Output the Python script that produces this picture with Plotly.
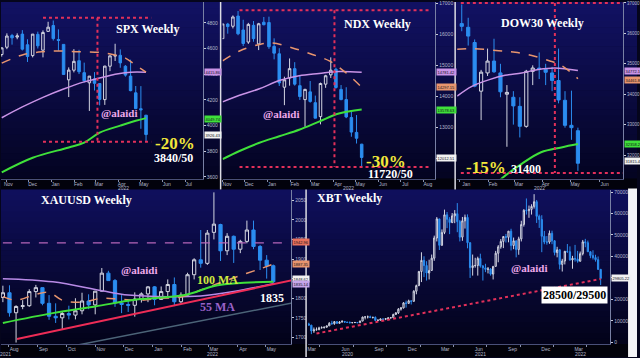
import plotly.graph_objects as go
import pandas as pd

W, H = 640, 358
SERIF = "Liberation Serif"
SANS = "Liberation Sans"

UP = "#d4d6e2"
DN = "#2b8df0"
C_ORANGE = "#e8956e"
C_VIOLET = "#c993e6"
C_GREEN = "#3fe03a"
C_RED = "#e3305a"
C_YEL = "#f2e83a"
C_PINK = "#eea8ea"

# ======================= DATA =======================
# ---- SPX weekly ----
spx_first_week = "2021-10-25"
spx_open = [4553, 4610, 4701, 4689, 4712, 4629, 4545, 4710, 4587, 4733, 4779, 4670, 4632, 4356, 4431,
            4505, 4412, 4333, 4363, 4327, 4202, 4462, 4541, 4547, 4462, 4385, 4255, 4131, 4081]
spx_high = [4608, 4718, 4714, 4718, 4743, 4672, 4713, 4731, 4741, 4808, 4818, 4749, 4632, 4453, 4595,
            4590, 4490, 4385, 4416, 4327, 4465, 4546, 4637, 4593, 4471, 4513, 4308, 4307, 4081]
spx_low = [4537, 4595, 4630, 4672, 4585, 4495, 4531, 4600, 4531, 4733, 4662, 4582, 4395, 4222, 4414,
           4401, 4335, 4114, 4273, 4157, 4161, 4424, 4503, 4450, 4381, 4267, 4128, 3975, 3880]
spx_close = [4605, 4697, 4683, 4698, 4595, 4538, 4712, 4621, 4725, 4766, 4677, 4663, 4398, 4432, 4500,
             4419, 4349, 4385, 4329, 4204, 4463, 4543, 4546, 4488, 4393, 4272, 4132, 4123, 3930]
spx_orange_dates = ["2021-10-25", "2021-11-22", "2021-12-20", "2022-01-10", "2022-02-07", "2022-03-07",
                    "2022-03-28", "2022-04-11", "2022-04-25", "2022-05-09"]
spx_orange = [4486, 4550, 4575, 4581, 4575, 4570, 4550, 4525, 4470, 4416]
spx_violet_dates = ["2021-10-25", "2021-11-22", "2021-12-20", "2022-01-17", "2022-02-14", "2022-03-07",
                    "2022-03-28", "2022-04-18", "2022-05-09"]
spx_violet = [4061, 4145, 4220, 4285, 4340, 4370, 4400, 4416, 4416]
spx_green_dates = ["2021-10-25", "2021-12-06", "2022-01-24", "2022-02-14", "2022-03-07", "2022-04-04",
                   "2022-04-25", "2022-05-09"]
spx_green = [3636, 3750, 3830, 3868, 3945, 4000, 4038, 4058]
spx_box_dates = ["2021-12-20", "2022-05-16"]
spx_box_levels = [4840, 3875]
spx_box_split = "2022-03-04"
spx_yticks = [3600, 3800, 4000, 4200, 4400, 4600, 4800]
spx_month_dates = ["2021-11-03", "2021-12-06", "2022-01-06", "2022-02-06", "2022-03-06", "2022-04-06",
                   "2022-05-06", "2022-06-06", "2022-07-06"]
spx_month_labels = ["Nov", "Dec", "Jan", "Feb", "Mar", "Apr", "May", "Jun", "Jul"]
spx_year_dates = ["2022-04-08"]
spx_year_labels = ["2022"]
spx_tags = [4415.86, 4049.74, 3926.43]

# ---- NDX weekly ----
ndx_first_week = "2021-11-01"
ndx_open = [15870, 16340, 16270, 16600, 16150, 15760, 16300, 15700, 16400, 16390, 15620, 15380, 14300, 14600,
            14900, 14350, 13900, 14150, 13800, 13350, 14400, 14700, 14880, 14230, 13900, 13320, 12840, 12460]
ndx_high = [16350, 16380, 16620, 16764, 16480, 16380, 16440, 16380, 16570, 16580, 15880, 15560, 14640, 15230,
            15110, 14690, 14250, 14500, 14030, 14450, 14700, 15265, 14930, 14370, 14300, 13560, 13400, 12470]
ndx_low = [15860, 16030, 16200, 15980, 15630, 15700, 15770, 15500, 16300, 15540, 15200, 14340, 13720, 14350,
           14350, 13890, 13020, 13800, 13300, 13100, 14280, 14600, 14250, 13880, 13300, 12700, 12480, 11700]
ndx_close = [16345, 16260, 16570, 16026, 15712, 16330, 15870, 16350, 16320, 15610, 15400, 14440, 14540, 14900,
             14400, 14000, 14230, 13840, 13300, 14420, 14670, 14850, 14290, 13900, 13340, 12850, 12650, 12030]
ndx_orange_dates = ["2021-11-01", "2021-11-24", "2021-12-21", "2022-01-07", "2022-02-04", "2022-03-03",
                    "2022-03-26", "2022-04-17", "2022-05-09"]
ndx_orange = [15150, 15470, 15680, 15730, 15570, 15360, 15150, 14780, 14300]
ndx_violet_dates = ["2021-11-01", "2021-11-24", "2021-12-21", "2022-01-17", "2022-02-13", "2022-03-12",
                    "2022-04-08", "2022-05-09"]
ndx_violet = [13825, 14040, 14250, 14515, 14670, 14745, 14810, 14780]
ndx_green_dates = ndx_violet_dates
ndx_green = [11975, 12240, 12505, 12715, 12925, 13190, 13450, 13580]
ndx_box_dates = ["2021-11-24", "2022-08-11"]
ndx_box_levels = [16790, 11720]
ndx_box_split = "2022-04-02"
ndx_yticks = [12000, 13000, 14000, 15000, 16000, 17000]
ndx_month_dates = ["2021-11-07", "2021-12-07", "2022-01-07", "2022-02-07", "2022-03-07", "2022-04-07",
                   "2022-05-07", "2022-06-07", "2022-07-07", "2022-08-07"]
ndx_month_labels = ["Nov", "Dec", "Jan", "Feb", "Mar", "Apr", "May", "Jun", "Jul", "Aug"]
ndx_year_dates = ["2022-04-21"]
ndx_year_labels = ["2022"]
ndx_tags = [14781.42, 14297.15, 13578.63, 12012.51]

# ---- DOW30 weekly ----
dow_first_week = "2022-01-03"
dow_open = [36321, 36200, 35700, 34100, 34700, 35090, 34700, 34000, 33900, 33600, 32944, 34750, 34860, 34818,
            34700, 34450, 33800, 32977, 32800]
dow_high = [36952, 36513, 35800, 34800, 35500, 35824, 35000, 34300, 34100, 33900, 34800, 34950, 35372, 35000,
            34900, 35500, 34100, 34117, 32900]
dow_low = [36071, 35600, 34230, 33150, 34600, 34700, 33900, 32272, 33000, 32578, 32900, 34300, 34500, 34300,
           34100, 33700, 32900, 32500, 31480]
dow_close = [36231, 35911, 34265, 34725, 35089, 34738, 34079, 34059, 33615, 32944, 34754, 34861, 34818, 34721,
             34451, 33811, 32977, 32899, 31730]
dow_orange_dates = ["2021-12-29", "2022-01-14", "2022-02-12", "2022-03-02", "2022-03-20", "2022-04-07",
                    "2022-04-21", "2022-05-09"]
dow_orange = [35480, 35500, 35430, 35380, 35270, 35110, 34950, 34510]
dow_violet_dates = ["2021-12-29", "2022-01-14", "2022-02-02", "2022-02-19", "2022-03-09", "2022-03-27",
                    "2022-04-14", "2022-05-09"]
dow_violet = [33940, 34260, 34480, 34620, 34700, 34810, 34860, 34780]
dow_green_dates = ["2022-02-01", "2022-02-15", "2022-03-09", "2022-03-30", "2022-04-21", "2022-05-09"]
dow_green = [30800, 31220, 31710, 32090, 32250, 32360]
dow_box_dates = ["2022-01-02", "2022-06-30"]
dow_box_levels = [37000, 31410]
dow_box_split = "2022-04-14"
dow_yticks = [32000, 33000, 34000, 35000, 36000, 37000]
dow_month_dates = ["2022-01-08", "2022-02-06", "2022-03-06", "2022-04-04", "2022-05-06", "2022-06-07"]
dow_month_labels = ["Jan", "Feb", "Mar", "Apr", "May", "Jun"]
dow_year_dates = ["2022-03-28"]
dow_year_labels = ["2022"]
dow_tags = [34772.10, 34461.88, 32358.27, 31815.40]

# ---- XAUUSD weekly ----
xau_first_week = "2021-07-26"
xau_open = [1802, 1814, 1763, 1779, 1781, 1817, 1827, 1787, 1754, 1750, 1761, 1757, 1768, 1793, 1783, 1818,
            1864, 1845, 1788, 1784, 1782, 1798, 1811, 1829, 1797, 1817, 1835, 1791, 1808, 1860, 1898, 1889,
            1968, 1988, 1921, 1958, 1925, 1945, 1974, 1932, 1897, 1883]
xau_high = [1832, 1833, 1782, 1795, 1823, 1834, 1827, 1808, 1787, 1765, 1781, 1800, 1814, 1810, 1818, 1877,
            1870, 1849, 1808, 1793, 1815, 1815, 1831, 1831, 1830, 1848, 1853, 1815, 1865, 1902, 1974, 1974,
            2070, 1990, 1966, 1960, 1949, 1998, 1998, 1936, 1910, 1886]
xau_low = [1790, 1753, 1687, 1772, 1778, 1802, 1782, 1745, 1737, 1721, 1746, 1746, 1759, 1772, 1759, 1817,
           1845, 1778, 1762, 1765, 1753, 1789, 1790, 1782, 1796, 1805, 1780, 1788, 1807, 1848, 1878, 1885,
           1950, 1895, 1910, 1890, 1915, 1940, 1925, 1872, 1850, 1836]
xau_close = [1814, 1763, 1779, 1781, 1817, 1827, 1787, 1754, 1750, 1761, 1757, 1768, 1793, 1783, 1818, 1864,
             1845, 1788, 1784, 1782, 1798, 1811, 1829, 1797, 1817, 1835, 1791, 1808, 1860, 1898, 1889, 1966,
             1989, 1921, 1958, 1925, 1945, 1974, 1932, 1897, 1883, 1842]
xau_orange_dates = ["2021-07-26", "2021-08-09", "2021-08-30", "2021-09-13", "2021-09-27", "2021-10-18",
                    "2021-11-08", "2021-11-29", "2021-12-20", "2022-01-10", "2022-01-31", "2022-02-21",
                    "2022-03-14", "2022-04-04", "2022-04-25", "2022-05-09"]
xau_orange = [1804, 1795, 1810, 1815, 1795, 1790, 1800, 1797, 1795, 1800, 1803, 1821, 1840, 1858, 1875, 1887]
xau_violet_dates = ["2021-07-26", "2021-09-17", "2021-11-08", "2021-12-06", "2022-01-17", "2022-02-21",
                    "2022-03-28", "2022-05-09"]
xau_violet = [1850, 1842, 1819, 1808, 1804, 1806, 1817, 1837]
xau_green_dates = ["2021-07-26", "2021-09-17", "2021-11-01", "2021-12-13", "2022-02-04", "2022-03-11",
                   "2022-05-09"]
xau_green = [1737, 1762, 1779, 1796, 1808, 1833, 1842]
xau_trend_dates = ["2021-08-10", "2022-05-29"]
xau_trend = [1696, 1846]
xau_slate_dates = ["2021-10-14", "2022-05-29"]
xau_slate = [1681, 1788]
xau_hline = 1941
xau_yticks = [1700, 1750, 1800, 1850, 1900, 1950, 2000, 2050]
xau_month_dates = ["2021-08-07", "2021-09-07", "2021-10-07", "2021-11-07", "2021-12-07", "2022-01-07",
                   "2022-02-07", "2022-03-07", "2022-04-07", "2022-05-07"]
xau_month_labels = ["Aug", "Sep", "Oct", "Nov", "Dec", "Jan", "Feb", "Mar", "Apr", "May"]
xau_year_dates = ["2021-07-29", "2022-03-05"]
xau_year_labels = ["2021", "2022"]
xau_tags = [1942.96, 1887.35, 1848.62, 1835.14]

# ---- XBT weekly ----
xbt_first_week = "2020-03-02"
xbt_open = [8600, 8030, 5360, 5830, 5880, 6770, 6860, 7120, 7700, 8890, 8720, 9680, 8900, 9460, 9750, 9450,
            9290, 9140, 9230, 9300, 9160, 9930, 11800, 11900, 11900, 11650, 11680, 10250, 10330, 10930, 10770,
            11070, 11370, 11500, 13030, 13760, 15480, 16050, 18400, 18170, 19370, 19130, 23830, 26440,
            33000, 38200, 35800, 32300, 33500, 39200, 48600, 57500, 45200, 51200, 59400, 57300, 55800, 58900,
            59900, 56200, 49000, 56600, 58200, 46400, 34800, 35700, 35800, 39100, 35600, 34700, 34000, 34200,
            31800, 35400, 41500, 44500, 47000, 49300, 48900, 51800, 45100, 47300, 43200, 48200, 54900, 61500,
            61300, 61900, 63300, 65500, 58700, 57200, 49400, 46700, 46700, 50800,
            47300, 41800, 43100, 36300, 37900, 42400, 42200, 38400, 39100, 38800, 37800, 41300, 46800, 46400,
            42200, 40400, 39500, 38500, 34000]
xbt_high = [9180, 8180, 6950, 6960, 7300, 7470, 7300, 7740, 9460, 10070, 9950, 9850, 9950, 10400, 10000, 9600,
            9770, 9300, 9480, 9330, 10140, 12000, 12000, 12500, 12470, 11800, 12090, 10700, 11100, 10990, 11100,
            11700, 11700, 13350, 14090, 15960, 16480, 18800, 19480, 19900, 19400, 24300, 26900, 33300,
            41950, 40100, 37800, 38500, 40900, 49700, 58350, 57500, 52600, 61800, 60700, 58300, 60200, 61600,
            64850, 57000, 58400, 59500, 59600, 46600, 40900, 39400, 39900, 41300, 36000, 36600, 35100, 34600,
            35400, 42600, 45300, 48100, 49300, 50500, 51800, 52900, 48800, 47300, 49200, 56600, 62000, 67000,
            63700, 64300, 69000, 66300, 59500, 59200, 51900, 49500, 52100, 52000,
            47600, 44500, 43500, 38900, 42600, 45800, 44700, 40300, 45400, 42600, 42300, 47700, 48200, 47400,
            42400, 42900, 40800, 40000, 34200]
xbt_low = [8000, 3850, 4440, 5680, 5860, 6560, 6470, 6810, 7650, 8220, 8200, 8630, 8700, 9300, 9200, 9200,
           8970, 8950, 9100, 9050, 9150, 9900, 10700, 11150, 11300, 11100, 9900, 9900, 10200, 10150, 10370,
           10520, 11200, 11400, 12800, 13250, 14810, 15800, 16200, 18000, 17650, 19000, 22400, 26200,
           28100, 30400, 28800, 29300, 33400, 38000, 47000, 43000, 45000, 50400, 53200, 50400, 55500, 55500,
           51300, 47000, 47300, 53000, 43800, 30000, 31100, 34800, 31100, 34800, 28800, 32700, 32100, 31100,
           29300, 35300, 37300, 43600, 43900, 46500, 46600, 42800, 43400, 39600, 40800, 47000, 53900, 59500,
           58000, 59500, 62300, 55600, 53300, 42000, 45700, 45500, 45900, 45700,
           40500, 39600, 34000, 33000, 36300, 41700, 38000, 34300, 37600, 37100, 37600, 40500, 44300, 42100,
           39200, 38600, 37600, 33700, 26700]
xbt_close = [8030, 5360, 5830, 5880, 6770, 6860, 7120, 7700, 8890, 8720, 9680, 8900, 9460, 9750, 9450, 9290,
             9140, 9230, 9300, 9160, 9930, 11800, 11900, 11900, 11650, 11680, 10250, 10330, 10930, 10770, 11070,
             11370, 11500, 13030, 13760, 15480, 16050, 18400, 18170, 19370, 19130, 23830, 26440, 33000,
             38200, 35800, 32300, 33500, 39200, 48600, 57500, 45200, 51200, 59400, 57300, 55800, 58900, 59900,
             56200, 49000, 56600, 58200, 46400, 34800, 35700, 35800, 39100, 35600, 34700, 34000, 34200, 31800,
             35400, 41500, 44500, 47000, 49300, 48900, 51800, 45100, 47300, 43200, 48200, 54900, 61500, 61300,
             61900, 63300, 65500, 58700, 57200, 49400, 46700, 46700, 50800, 47300,
             41800, 43100, 36300, 37900, 42400, 42200, 38400, 39100, 38800, 37800, 41300, 46800, 46400, 42200,
             40400, 39500, 38500, 34000, 29800]
xbt_trend_dates = ["2020-03-23", "2022-05-09"]
xbt_trend = [4150, 29530]
xbt_yticks = [0, 10000, 20000, 30000, 40000, 50000, 60000, 70000]
xbt_month_dates = ["2020-03-10", "2020-06-10", "2020-09-10", "2020-12-10", "2021-03-10", "2021-06-10",
                   "2021-09-10", "2021-12-10", "2022-03-10"]
xbt_month_labels = ["Mar", "Jun", "Sep", "Dec", "Mar", "Jun", "Sep", "Dec", "Mar"]
xbt_year_dates = ["2020-06-16", "2021-06-15", "2022-03-14"]
xbt_year_labels = ["2020", "2021", "2022"]
xbt_tags = [29805.22]

# ======================= LAYOUT HELPERS =======================
def px(x):
    return x / W


def py(y):
    return 1 - y / H


fig = go.Figure()
shapes = []
annotations = []


def weeks(start, n):
    return pd.date_range(start=start, periods=n, freq="7D")


def add_panel(k, box_px, xrange, yrange, first, o, h, l, c, yticks, mdates, mlabels,
              ydates, ylabels, year_y, tags, tagcols, tick_size=5, minor_step="M1"):
    xa = "x" if k == 1 else f"x{k}"
    ya = "y" if k == 1 else f"y{k}"
    x0, y0, x1, y1 = box_px
    fig.add_trace(go.Candlestick(
        x=weeks(first, len(c)), open=o, high=h, low=l, close=c, xaxis=xa, yaxis=ya,
        increasing=dict(line=dict(color=UP, width=1), fillcolor="rgba(0,0,0,0)"),
        decreasing=dict(line=dict(color=DN, width=1), fillcolor=DN),
        whiskerwidth=0, showlegend=False, hoverinfo="skip"))
    xkey = "xaxis" if k == 1 else f"xaxis{k}"
    ykey = "yaxis" if k == 1 else f"yaxis{k}"
    fig.layout[xkey] = dict(
        domain=[px(x0), px(x1)], anchor=ya, type="date", range=xrange,
        tickvals=mdates, ticktext=mlabels, ticks="", showgrid=False, zeroline=False,
        showline=True, linecolor="#4a5078", linewidth=1,
        minor=dict(ticks="outside", ticklen=2, tickcolor="#8890aa", dtick=minor_step,
                   tick0="2020-01-01", showgrid=False),
        tickfont=dict(size=5, color="#b4b8cc", family=SANS),
        rangeslider=dict(visible=False), fixedrange=True)
    fig.layout[ykey] = dict(
        domain=[py(y1), py(y0)], anchor=xa, side="right", range=yrange,
        tickvals=yticks, ticktext=[str(v) for v in yticks], ticks="outside", ticklen=2,
        tickcolor="#c8cad8",
        showgrid=False, zeroline=False, showline=True, linecolor="#7880a4", linewidth=1,
        tickfont=dict(size=tick_size, color="#b4b8cc", family=SANS), fixedrange=True)
    for d, t in zip(ydates, ylabels):
        annotations.append(dict(text=t, x=d, xref=xa, y=py(year_y), yref="paper", showarrow=False,
                                font=dict(size=5, color="#b4b8cc", family=SANS),
                                xanchor="center", yanchor="middle"))
    for v, col in zip(tags, tagcols):
        annotations.append(dict(text=f"{v:.2f}", x=px(x1 + 1), xref="paper", y=v, yref=ya,
                                showarrow=False, xanchor="left", yanchor="middle",
                                font=dict(size=4, color="#101018", family=SANS),
                                bgcolor=col, borderpad=0.6))
    return xa, ya


def line(xa, ya, xs, ys, color, width, dash="solid", shape="spline"):
    fig.add_trace(go.Scatter(x=xs, y=ys, xaxis=xa, yaxis=ya, mode="lines",
                             line=dict(color=color, width=width, dash=dash, shape=shape),
                             showlegend=False, hoverinfo="skip"))


def dotted_box(xa, ya, dates, levels, split):
    for lv in levels:
        line(xa, ya, dates, [lv, lv], C_RED, 2, "dot", "linear")
    line(xa, ya, [split, split], levels, C_RED, 2, "dot", "linear")


def text(t, x, y, size, color, bg=None, family=SERIF):
    d = dict(text=f"<b>{t}</b>", x=px(x), y=py(y), xref="paper", yref="paper", showarrow=False,
             font=dict(size=size, color=color, family=family), xanchor="center", yanchor="middle")
    if bg:
        d.update(bgcolor=bg, borderpad=1)
    annotations.append(d)


# ---------------- background gradient ----------------
def gradient(y0, y1, c0, c1, n=28):
    for i in range(n):
        t = i / (n - 1) if n > 1 else 0
        col = tuple(round(c0[j] + (c1[j] - c0[j]) * t) for j in range(3))
        ya = y0 + (y1 - y0) * i / n
        yb = y0 + (y1 - y0) * (i + 1) / n + 0.6
        shapes.append(dict(type="rect", xref="paper", yref="paper", x0=0, x1=1,
                           y0=py(min(yb, y1)), y1=py(ya), fillcolor="rgb(%d,%d,%d)" % col,
                           line=dict(width=0), layer="below"))


gradient(0, 178, (17, 17, 98), (4, 4, 34))
gradient(178, 189, (2, 2, 12), (2, 2, 12), 2)
gradient(189, 345, (15, 15, 92), (3, 3, 26))
gradient(345, 358, (2, 2, 10), (2, 2, 10), 2)

# ---------------- SPX ----------------
xa, ya = add_panel(1, (0, 0, 203, 178), ["2021-10-24", "2022-07-25"], [3588, 4962], spx_first_week,
                   spx_open, spx_high, spx_low, spx_close, spx_yticks, spx_month_dates, spx_month_labels,
                   spx_year_dates, spx_year_labels, 187.5, spx_tags, [C_VIOLET, C_GREEN, "#f2f2f2"])
line(xa, ya, spx_violet_dates, spx_violet, C_VIOLET, 1.5)
line(xa, ya, spx_orange_dates, spx_orange, C_ORANGE, 1.5, "dash")
line(xa, ya, spx_green_dates, spx_green, C_GREEN, 2)
dotted_box(xa, ya, spx_box_dates, spx_box_levels, spx_box_split)

# ---------------- NDX ----------------
xa, ya = add_panel(2, (223, 0, 437, 178), ["2021-11-01", "2022-08-17"], [11350, 17054], ndx_first_week,
                   ndx_open, ndx_high, ndx_low, ndx_close, ndx_yticks, ndx_month_dates, ndx_month_labels,
                   ndx_year_dates, ndx_year_labels, 187.5, ndx_tags, [C_VIOLET, C_ORANGE, C_GREEN, "#f2f2f2"])
line(xa, ya, ndx_violet_dates, ndx_violet, C_VIOLET, 1.5)
line(xa, ya, ndx_orange_dates, ndx_orange, C_ORANGE, 1.5, "dash")
line(xa, ya, ndx_green_dates, ndx_green, C_GREEN, 2)
dotted_box(xa, ya, ndx_box_dates, ndx_box_levels, ndx_box_split)

# ---------------- DOW30 ----------------
xa, ya = add_panel(3, (459, 0, 626, 178), ["2021-12-29", "2022-06-27"], [31228, 37032], dow_first_week,
                   dow_open, dow_high, dow_low, dow_close, dow_yticks, dow_month_dates, dow_month_labels,
                   dow_year_dates, dow_year_labels, 187.5, dow_tags, [C_VIOLET, C_ORANGE, C_GREEN, "#f2f2f2"],
                   tick_size=4.5)
line(xa, ya, dow_violet_dates, dow_violet, C_VIOLET, 1.5)
line(xa, ya, dow_orange_dates, dow_orange, C_ORANGE, 1.5, "dash")
line(xa, ya, dow_green_dates, dow_green, C_GREEN, 2)
dotted_box(xa, ya, dow_box_dates, dow_box_levels, dow_box_split)

# ---------------- XAUUSD ----------------
xa, ya = add_panel(4, (0, 190, 292, 345), ["2021-07-24", "2022-05-28"], [1683, 2075], xau_first_week,
                   xau_open, xau_high, xau_low, xau_close, xau_yticks, xau_month_dates, xau_month_labels,
                   xau_year_dates, xau_year_labels, 355, xau_tags,
                   ["#e8705c", C_ORANGE, "#f2f2f2", "#c6a6ec"])
line(xa, ya, [xau_first_week, "2022-05-28"], [xau_hline, xau_hline], "#b666b8", 1.2, "dash", "linear")
line(xa, ya, xau_slate_dates, xau_slate, "#4c6478", 1.5, "solid", "linear")
line(xa, ya, xau_violet_dates, xau_violet, "#b88ae6", 1.5)
line(xa, ya, xau_orange_dates, xau_orange, C_ORANGE, 1.5, "dash")
line(xa, ya, xau_green_dates, xau_green, C_GREEN, 2)
line(xa, ya, xau_trend_dates, xau_trend, "#ee2c56", 2, "solid", "linear")

# ---------------- XBT ----------------
xa, ya = add_panel(5, (309, 190, 613, 345), ["2020-02-29", "2022-06-04"], [-785, 70750], xbt_first_week,
                   xbt_open, xbt_high, xbt_low, xbt_close, xbt_yticks, xbt_month_dates, xbt_month_labels,
                   xbt_year_dates, xbt_year_labels, 355, xbt_tags, ["#f2f2f2"], minor_step="M3")
line(xa, ya, xbt_trend_dates, xbt_trend, C_RED, 2, "dot", "linear")

# ---------------- separators ----------------
for sx in (221, 457):
    shapes.append(dict(type="line", xref="paper", yref="paper", x0=px(sx), x1=px(sx), y0=py(189), y1=1,
                       line=dict(color="#dcdce4", width=1.5)))
shapes.append(dict(type="line", xref="paper", yref="paper", x0=px(307), x1=px(307), y0=0, y1=py(189),
                   line=dict(color="#dcdce4", width=1.5)))
shapes.append(dict(type="rect", xref="paper", yref="paper", x0=px(631), x1=1, y0=0, y1=py(188),
                   fillcolor="#f4f4f6", line=dict(width=0)))

# ---------------- texts ----------------
text("SPX Weekly", 147, 27, 12, "white")
text("@alaidi", 119, 112, 11, C_PINK)
text("-20%", 175, 143, 17, C_YEL)
text("3840/50", 174, 157, 12, "white")

text("NDX Weekly", 379, 22, 12, "white")
text("@alaidi", 282, 113, 11, C_PINK)
text("-30%", 387, 161, 17, C_YEL)
text("11720/50", 392, 173, 12, "white")

text("DOW30 Weekly", 545, 21, 12, "white")
text("-15%", 488, 167, 17, C_YEL)
text("31400", 528, 168, 12, "white")

text("XAUUSD Weekly", 86, 200, 12, "white")
text("@alaidi", 139, 270, 11, C_PINK)
text("100 MA", 218, 280, 12, "#cfe83e")
text("55 MA", 218, 308, 12, "#9a62c8")
text("1835", 273, 298, 12, "white")

text("XBT Weekly", 351, 198, 12, "white")
text("@alaidi", 532, 268, 11, C_PINK)
text("28500/29500", 577, 295, 12, "#000000", bg="#ffffff")

fig.update_layout(
    width=W, height=H, margin=dict(l=0, r=0, t=0, b=0),
    paper_bgcolor="#05051c", plot_bgcolor="rgba(0,0,0,0)",
    showlegend=False, shapes=shapes, annotations=annotations,
    hovermode=False, dragmode=False,
)

fig.write_html("out.html", config={"displayModeBar": False},
               post_script="document.body.style.margin='0';document.body.style.overflow='hidden';")
